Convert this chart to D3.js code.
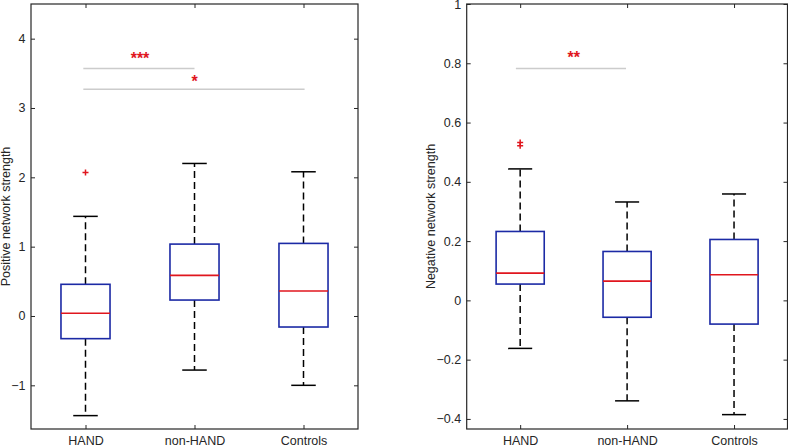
<!DOCTYPE html>
<html><head><meta charset="utf-8">
<script src="https://cdn.jsdelivr.net/npm/d3@7"></script>
<style>body{margin:0;background:#fff}svg{display:block}text{font-family:"Liberation Sans",Arial,Helvetica,sans-serif}</style>
</head><body><svg id="c" width="788" height="446"></svg>
<script>
const categories = ["HAND", "non-HAND", "Controls"];
// [lower whisker, Q1, median, Q3, upper whisker]
const positiveStats = [
  [-1.437, -0.327, 0.039, 0.457, 1.437],
  [-0.78, 0.23, 0.586, 1.037, 2.20],
  [-1.0, -0.159, 0.36, 1.047, 2.08]
];
const positiveOutliers = [[2.07], [], []];
const negativeStats = [
  [-0.162, 0.055, 0.092, 0.2325, 0.4436],
  [-0.339, -0.057, 0.065, 0.165, 0.332],
  [-0.3855, -0.080, 0.0863, 0.2055, 0.359]
];
const negativeOutliers = [[0.533, 0.522], [], []];
const positiveTicks = [-1, 0, 1, 2, 3, 4];
const negativeTicks = [-0.4, -0.2, 0, 0.2, 0.4, 0.6, 0.8, 1];
const positiveSig = [
  {from: 0.98, to: 2.0, y: 3.57, label: "***", lx: 1.5, ly: 3.75},
  {from: 0.98, to: 3.01, y: 3.27, label: "*", lx: 2.0, ly: 3.42}
];
const negativeSig = [
  {from: 0.96, to: 1.99, y: 0.782, label: "**", lx: 1.5, ly: 0.827}
];

const svg = d3.select("#c");
const axisCol = "#262626";
const FS = 12.5;

function panel(cfg) {
  const g = svg.append("g");
  const x = d3.scaleLinear().domain([0.5, 3.5]).range([cfg.left, cfg.right]);
  const y = d3.scaleLinear().domain(cfg.yDomain).range([cfg.bottom, cfg.top]);
  const bw = 0.45;

  // significance lines
  cfg.sig.forEach(s => {
    g.append("line").attr("x1", x(s.from)).attr("x2", x(s.to))
      .attr("y1", y(s.y)).attr("y2", y(s.y))
      .attr("stroke", "#cccccc").attr("stroke-width", 1.5);
    g.append("text").attr("x", x(s.lx)).attr("y", y(s.ly) + 8)
      .attr("text-anchor", "middle").attr("font-size", 16).attr("font-weight", "bold")
      .attr("fill", "#e0161e").text(s.label);
  });

  cfg.stats.forEach((s, i) => {
    const cx = x(i + 1);
    const [lo, q1, med, q3, hi] = s;
    g.append("line").attr("x1", cx).attr("x2", cx).attr("y1", y(q3)).attr("y2", y(hi))
      .attr("stroke", "#000").attr("stroke-width", 1.5).attr("stroke-dasharray", "7,4");
    g.append("line").attr("x1", cx).attr("x2", cx).attr("y1", y(q1)).attr("y2", y(lo))
      .attr("stroke", "#000").attr("stroke-width", 1.5).attr("stroke-dasharray", "7,4");
    [lo, hi].forEach(v => {
      g.append("line").attr("x1", x(i + 1 - bw / 4)).attr("x2", x(i + 1 + bw / 4))
        .attr("y1", y(v)).attr("y2", y(v)).attr("stroke", "#000").attr("stroke-width", 1.5);
    });
    g.append("rect").attr("x", x(i + 1 - bw / 2)).attr("width", x(i + 1 + bw / 2) - x(i + 1 - bw / 2))
      .attr("y", y(q3)).attr("height", y(q1) - y(q3))
      .attr("fill", "none").attr("stroke", "#1c2aa5").attr("stroke-width", 1.6);
    g.append("line").attr("x1", x(i + 1 - bw / 2)).attr("x2", x(i + 1 + bw / 2))
      .attr("y1", y(med)).attr("y2", y(med)).attr("stroke", "#e0161e").attr("stroke-width", 1.6);
    cfg.outliers[i].forEach(v => {
      const py = y(v);
      g.append("path").attr("d", `M${cx - 3},${py}H${cx + 3}M${cx},${py - 3}V${py + 3}`)
        .attr("stroke", "#e0161e").attr("stroke-width", 1.5);
    });
  });

  const axL = d3.axisLeft(y).tickValues(cfg.ticks).tickSize(-4).tickPadding(5.5).tickFormat(cfg.fmt);
  const axR = d3.axisRight(y).tickValues(cfg.ticks).tickSize(-4).tickFormat("");
  const axB = d3.axisBottom(x).tickValues([1, 2, 3]).tickSize(-4).tickPadding(7).tickFormat((d, i) => categories[i]);
  const axT = d3.axisTop(x).tickValues([1, 2, 3]).tickSize(-4).tickFormat("");
  [[axL, `translate(${cfg.left},0)`], [axR, `translate(${cfg.right},0)`],
   [axB, `translate(0,${cfg.bottom})`], [axT, `translate(0,${cfg.top})`]].forEach(([a, t]) => {
    const ag = g.append("g").attr("transform", t).call(a);
    ag.select(".domain").remove();
    ag.selectAll("line").attr("stroke", axisCol).attr("stroke-width", 1);
    ag.selectAll("text").attr("font-size", FS).attr("fill", axisCol)
      .style("font-family", '"Liberation Sans",Arial,Helvetica,sans-serif');
  });
  g.append("rect").attr("x", cfg.left).attr("y", cfg.top)
    .attr("width", cfg.right - cfg.left).attr("height", cfg.bottom - cfg.top)
    .attr("fill", "none").attr("stroke", axisCol).attr("stroke-width", 1.2);

  g.append("text").attr("transform", `translate(${cfg.labelX},${(cfg.top + cfg.bottom) / 2}) rotate(-90)`)
    .attr("text-anchor", "middle").attr("font-size", FS).attr("fill", axisCol).text(cfg.label);
}

panel({left: 31, right: 358, top: 4, bottom: 429, yDomain: [-1.63, 4.5],
  stats: positiveStats, outliers: positiveOutliers, ticks: positiveTicks, sig: positiveSig,
  fmt: d3.format("d"), label: "Positive network strength", labelX: 9.5});
panel({left: 466.7, right: 787.5, top: 4, bottom: 429, yDomain: [-0.434, 1],
  stats: negativeStats, outliers: negativeOutliers, ticks: negativeTicks, sig: negativeSig,
  fmt: d => d === 0 ? "0" : (d === 1 ? "1" : d3.format(".1f")(d)), label: "Negative network strength", labelX: 435});
</script></body></html>
